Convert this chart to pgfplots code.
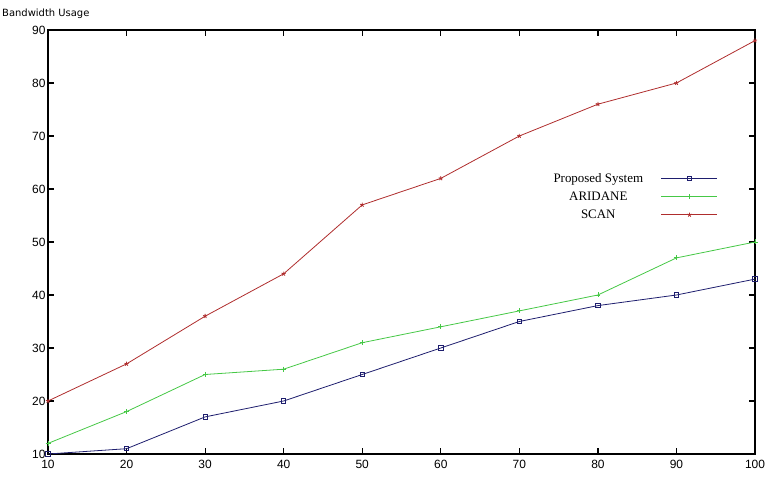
\documentclass[border=0pt]{standalone}
\usepackage{pgfplots}
\pgfplotsset{compat=1.18}
\usepackage{fontspec}
\setmainfont{Liberation Sans}
\newfontfamily\legfont{Liberation Serif}
\newfontfamily\titfont{DejaVu Sans}
\definecolor{cprop}{RGB}{30,30,110}
\definecolor{cari}{RGB}{70,200,70}
\definecolor{cscan}{RGB}{175,45,45}
\begin{document}
\begin{tikzpicture}[x=1bp,y=1bp]
\path[use as bounding box] (-48,-30) rectangle (719,454);
\begin{axis}[
  at={(0,0)}, anchor=south west,
  scale only axis, width=707bp, height=424bp,
  xmin=10, xmax=100, ymin=10, ymax=90,
  xtick={10,20,...,100}, ytick={10,20,...,90},
  /pgf/number format/assume math mode=true,
  tick align=inside, major tick length=6bp,
  axis line style={line width=1.6bp},
  every tick/.style={line width=1.2bp, black},
  tick label style={font=\fontsize{12}{14}\selectfont},
  yticklabel style={xshift=1bp},
  xticklabel style={yshift=-3bp},
  legend style={at={(0.952,0.672)}, anchor=north east, draw=none, fill=none,
    font=\legfont\fontsize{13}{15}\selectfont, row sep=4bp,
    /tikz/every odd column/.append style={column sep=16bp}},
  legend plot pos=right, legend cell align=center,
  legend image code/.code={\draw[mark repeat=2,mark phase=2] plot coordinates {(0bp,0bp) (28bp,0bp) (56bp,0bp)};},
]
\addplot[cprop, line width=0.8bp, mark=square, mark size=2.2bp, mark options={solid, line width=0.8bp}]
 coordinates {(10,10) (20,11) (30,17) (40,20) (50,25) (60,30) (70,35) (80,38) (90,40) (100,43)};
\addlegendentry{Proposed System}
\addplot[cari, line width=0.8bp, mark=+, mark size=2.5bp, mark options={solid}]
 coordinates {(10,12) (20,18) (30,25) (40,26) (50,31) (60,34) (70,37) (80,40) (90,47) (100,50)};
\addlegendentry{ARIDANE}
\addplot[cscan, line width=0.8bp, mark=star, mark size=2.2bp, mark options={solid}]
 coordinates {(10,20) (20,27) (30,36) (40,44) (50,57) (60,62) (70,70) (80,76) (90,80) (100,88)};
\addlegendentry{SCAN}
\end{axis}
\node[anchor=base west, font=\titfont\fontsize{10}{12}\selectfont, inner sep=0] at (-46,437) {Bandwidth Usage};
\end{tikzpicture}
\end{document}
